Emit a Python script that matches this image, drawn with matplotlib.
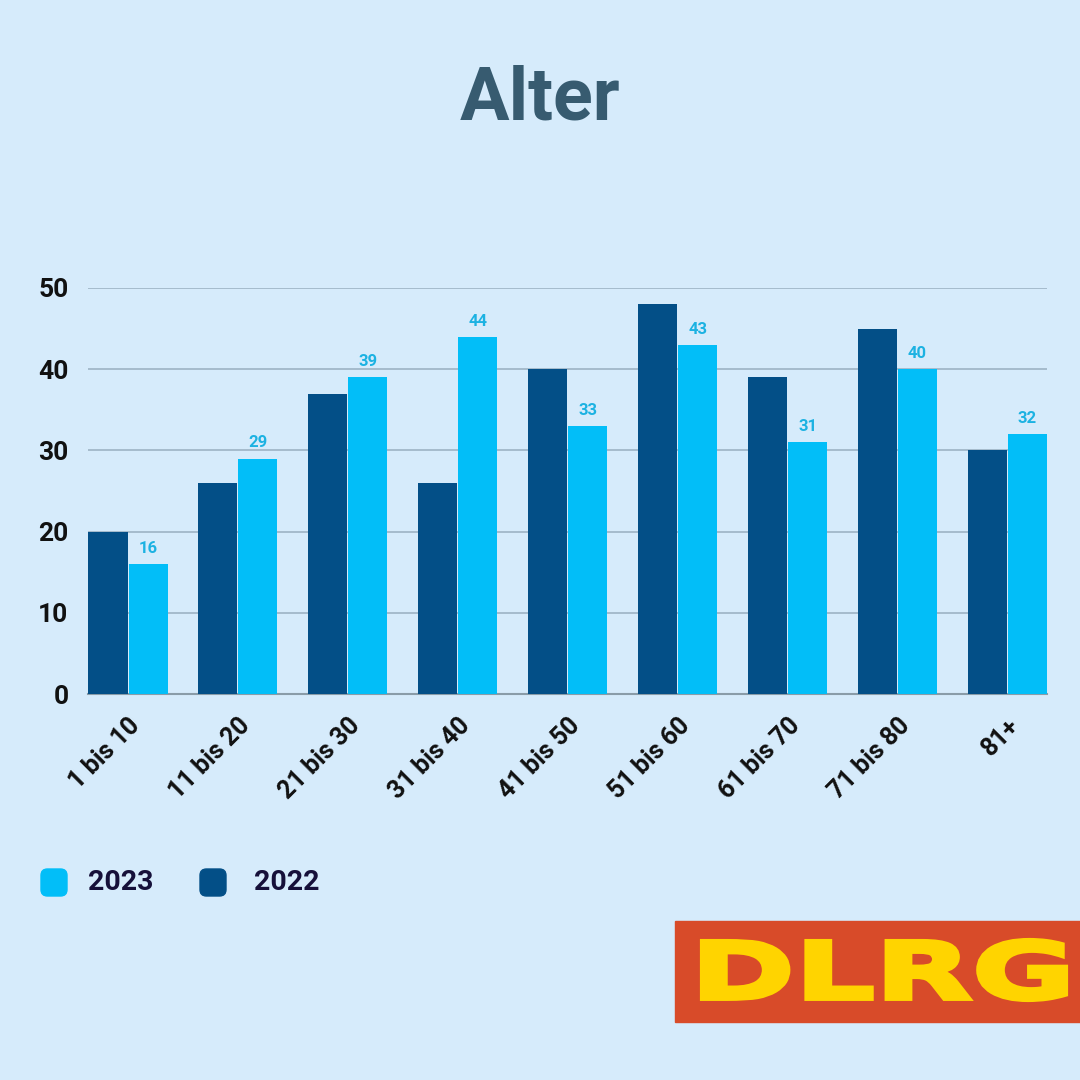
import matplotlib.pyplot as plt
import numpy as np
from matplotlib.patches import FancyBboxPatch, Rectangle, PathPatch
from matplotlib.textpath import TextPath
from matplotlib.font_manager import FontProperties
from matplotlib.transforms import Affine2D

# data
kategorien = ['1 bis 10', '11 bis 20', '21 bis 30', '31 bis 40', '41 bis 50',
              '51 bis 60', '61 bis 70', '71 bis 80', '81+']
werte_2022 = [20, 26, 37, 26, 40, 48, 39, 45, 30]
werte_2023 = [16, 29, 39, 44, 33, 43, 31, 40, 32]
y_ticks = [0, 10, 20, 30, 40, 50]

bg = '#D6EBFB'
dunkel = '#034F87'
hell = '#02BEF8'

plt.rcParams['font.family'] = ['Roboto', 'DejaVu Sans']

fig = plt.figure(figsize=(10.8, 10.8), dpi=100, facecolor=bg)
ax = fig.add_axes([88/1080, 1 - 694/1080, (1047 - 88)/1080, (694 - 288)/1080])
ax.set_facecolor(bg)

x = np.arange(len(kategorien))
w = 0.355
ax.bar(x - 0.182, werte_2022, width=w, color=dunkel, zorder=3)
ax.bar(x + 0.182, werte_2023, width=w, color=hell, zorder=3)

for xi, v in zip(x, werte_2023):
    ax.text(xi + 0.182, v + 1.0, str(v), ha='center', va='bottom',
            fontsize=12, fontweight='bold', color='#1CB2E2')

ax.set_xlim(-0.364, 8.36)
ax.set_ylim(0, 50)
ax.set_yticks(y_ticks)
ax.set_yticklabels([str(t) for t in y_ticks], fontsize=19, fontweight='bold', color='#111111')
ax.set_xticks(x)
ax.set_xticklabels(kategorien, rotation=45, ha='right', rotation_mode='anchor',
                   fontsize=18, fontweight='bold', color='#111111')
ax.tick_params(axis='both', length=0)
ax.tick_params(axis='y', pad=14)
ax.tick_params(axis='x', pad=14)
ax.grid(axis='y', color='#9DB3C4', linewidth=1.2, zorder=0)
ax.set_axisbelow(True)
for s in ['top', 'right', 'left']:
    ax.spines[s].set_visible(False)
ax.spines['bottom'].set_color('#8A9CA8')
ax.spines['bottom'].set_linewidth(1.5)

# title
fig.text(0.5, 1 - 100/1080, 'Alter', ha='center', va='center', fontsize=53,
         fontweight='bold', color='#375B70')

# legend
for (lx, farbe, label, tx) in [(41, hell, '2023', 88), (200, dunkel, '2022', 254)]:
    fig.patches.append(FancyBboxPatch((lx/1080, 1 - 896/1080), 26/1080, 27/1080,
                                      boxstyle='round,pad=0,rounding_size=0.006',
                                      transform=fig.transFigure, color=farbe))
    fig.text(tx/1080, 1 - 882/1080, label, ha='left', va='center', fontsize=20.5,
             fontweight='bold', color='#16103A')

# DLRG logo
fig.patches.append(Rectangle((675/1080, 1 - 1022/1080), 405/1080, 101/1080,
                             transform=fig.transFigure, color='#D84B29'))
tp = TextPath((0, 0), 'DLRG', size=1, prop=FontProperties(family='DejaVu Sans', weight='bold'))
bb = tp.get_extents()
x0, x1, y0, y1 = 702, 1066, 940, 1000
sx = (x1 - x0) / bb.width
sy = (y1 - y0) / bb.height
tr = Affine2D().translate(-bb.x0, -bb.y0).scale(sx, sy).translate(x0, 1080 - y1)
pfad = tr.transform_path(tp)
fig.patches.append(PathPatch(pfad, transform=Affine2D().scale(1/1080) + fig.transFigure,
                             facecolor='#FFD400', edgecolor='#FFD400', lw=3))

fig.savefig('out.png', dpi=100, facecolor=bg)
